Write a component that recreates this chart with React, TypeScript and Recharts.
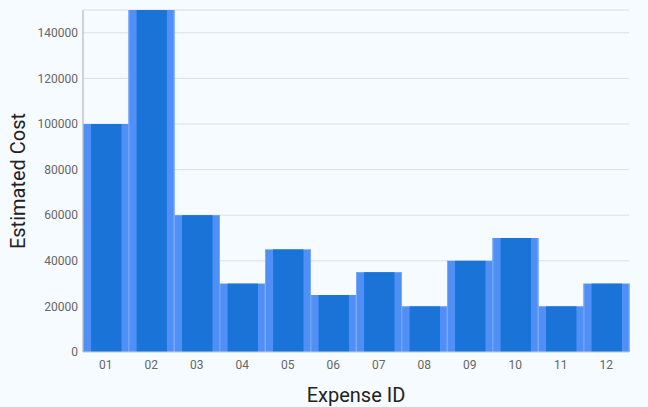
import { BarChart, Bar, XAxis, YAxis, CartesianGrid } from "recharts";

const expenseIds = ["01", "02", "03", "04", "05", "06", "07", "08", "09", "10", "11", "12"];
const estimatedCost = [100000, 150000, 60000, 30000, 45000, 25000, 35000, 20000, 40000, 50000, 20000, 30000];
const yTicks = [0, 20000, 40000, 60000, 80000, 100000, 120000, 140000];

const data = expenseIds.map((id, i) => ({ id, cost: estimatedCost[i] }));

const DoubleBar = (props: any) => {
  const { x, y, width, height } = props;
  if (!height || height <= 0) return null;
  const innerX = x + width * 0.176;
  const innerW = width * 0.66;
  return (
    <g>
      <rect x={x} y={y} width={width} height={height} fill="#4f8ff6" />
      <rect x={x} y={y} width={1} height={height} fill="#79aaf8" />
      <rect x={x + width - 1} y={y} width={1} height={height} fill="#79aaf8" />
      <rect x={innerX} y={y} width={innerW} height={height} fill="#1a73d6" />
    </g>
  );
};

export default function App() {
  return (
    <div style={{ position: "absolute", left: 0, top: 0, width: 648, height: 407, background: "#f6fbff", fontFamily: "Roboto" }}>
      <BarChart
        width={648}
        height={407}
        data={data}
        barCategoryGap={0}
        margin={{ top: 10, right: 19, bottom: 0, left: 0 }}
      >
        <CartesianGrid stroke="#dcdfe3" vertical={false} />
        <XAxis
          dataKey="id"
          height={55}
          tickLine={false}
          tickSize={0}
          tickMargin={8}
          stroke="#c9d3dd"
          tick={{ fill: "#666", fontSize: 12 }}
          label={{ value: "Expense ID", position: "insideBottom", offset: 5, fill: "#222", fontSize: 20 }}
        />
        <YAxis
          width={83}
          domain={[0, 150000]}
          ticks={yTicks}
          tickLine={false}
          tickSize={0}
          tickMargin={5}
          stroke="#aaa"
          tick={{ fill: "#666", fontSize: 12 }}
          label={{ value: "Estimated Cost", angle: -90, position: "insideLeft", offset: 18, fill: "#222", fontSize: 20, style: { textAnchor: "middle" } }}
        />
        <Bar dataKey="cost" shape={DoubleBar} isAnimationActive={false} />
      </BarChart>
    </div>
  );
}
